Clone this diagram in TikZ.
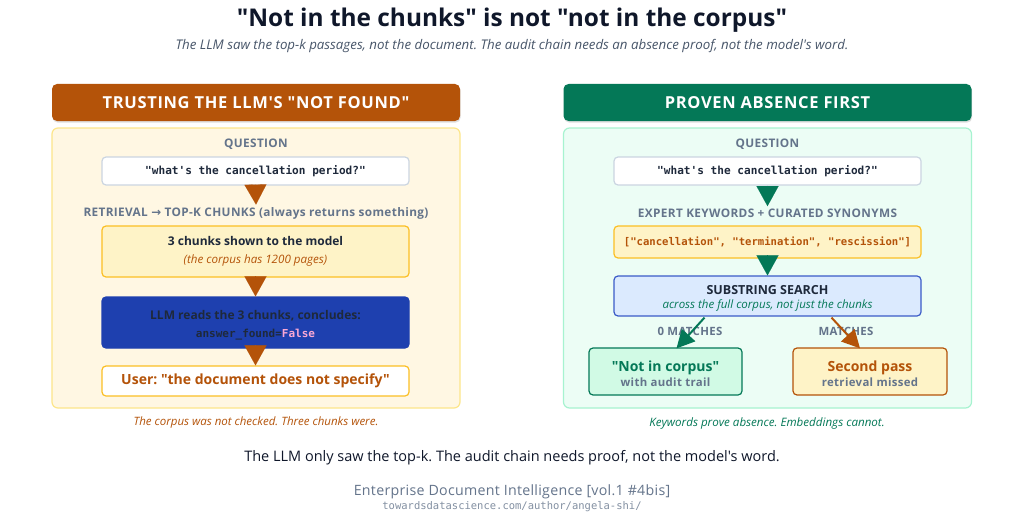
\documentclass[tikz,border=0pt]{standalone}
\usepackage{fontspec}
\setmainfont{Open Sans}[Ligatures=TeXOff]
\setmonofont{DejaVu Sans Mono}
\newfontfamily\arrfont{DejaVu Sans}
\usetikzlibrary{arrows.meta,shadows,calc}
\frenchspacing
\definecolor{ttl}{HTML}{0F172A}
\definecolor{sub}{HTML}{475569}
\definecolor{org}{HTML}{B45309}
\definecolor{grn}{HTML}{047857}
\definecolor{lpan}{HTML}{FFF7E3}
\definecolor{lpanb}{HTML}{FDE68A}
\definecolor{rpan}{HTML}{ECFDF5}
\definecolor{rpanb}{HTML}{A7F3D0}
\definecolor{gry}{HTML}{64748B}
\definecolor{qb}{HTML}{CBD5E1}
\definecolor{yfill}{HTML}{FEF3C7}
\definecolor{ybord}{HTML}{FBBF24}
\definecolor{blu}{HTML}{1E40AF}
\definecolor{dk}{HTML}{1E293B}
\definecolor{pnk}{HTML}{F9A8D4}
\definecolor{lblu}{HTML}{DBEAFE}
\definecolor{blub}{HTML}{3B5BC7}
\definecolor{lgrn}{HTML}{D1FAE5}
\tikzset{
  header/.style={rounded corners=5pt, minimum width=408pt, minimum height=37pt, inner sep=0pt,
     text=white, font=\fontsize{16.5}{19}\selectfont\bfseries\addfontfeature{LetterSpace=4},
     drop shadow={opacity=0.25, shadow xshift=0.6pt, shadow yshift=-1.6pt}},
  panel/.style={rounded corners=6pt, minimum width=408pt, minimum height=280pt, line width=1.2pt},
  box/.style={rounded corners=4pt, minimum width=307pt, inner sep=0pt, line width=1.2pt, align=center},
  lab/.style={text=gry, font=\fontsize{11.8}{13}\selectfont\bfseries\addfontfeature{LetterSpace=3}},
  tri/.style={draw=#1, line width=0.1pt, -{Triangle[width=22pt,length=20pt,fill=#1]}},
  diag/.style={draw=#1, line width=2pt, -{Triangle[width=18pt,length=18pt,fill=#1]}},
}
\begin{document}
\begin{tikzpicture}[x=1pt,y=-1pt]
\useasboundingbox[fill=white] (0,0) rectangle (1024,524);
% titles
\node[text=ttl, font=\fontsize{24.4}{28}\selectfont\bfseries] (title) at (512,20) {"Not in the chunks" is not "not in the corpus"};
\node[text=sub, font=\fontsize{13.3}{15}\selectfont\itshape] (subtitle) at (512,46) {The LLM saw the top-k passages, not the document. The audit chain needs an absence proof, not the model's word.};

% ---------- LEFT ----------
\node[header, fill=org] (lh) at (256,102.5) {TRUSTING THE LLM'S "NOT FOUND"};
\node[panel, fill=lpan, draw=lpanb] (lp) at (256,268) {};
\node[lab] (lq) at (256,144) {QUESTION};
\node[box, fill=white, draw=qb, minimum height=28pt, font=\fontsize{11.1}{13}\selectfont\ttfamily\bfseries, text=dk] (q1) at (255.5,171) {"what's the cancellation period?"};
\node[lab] (lab1) at (256,213) {RETRIEVAL {\arrfont\bfseries →} TOP-K CHUNKS (always returns something)};
\node[box, fill=yfill, draw=ybord, minimum height=51pt, font=\fontsize{12}{18}\selectfont] (c1) at (255.5,251.5)
  {{\bfseries\color{dk}3 chunks shown to the model}\\
   {\fontsize{11.6}{13}\selectfont\itshape\color{org}(the corpus has 1200 pages)}};
\node[box, fill=blu, draw=blu, minimum height=51pt, font=\fontsize{12}{18}\selectfont] (llm) at (255.5,322.5)
  {\rule{0pt}{14pt}{\bfseries\color{dk}LLM reads the 3 chunks, concludes:}\\
   {\fontsize{11}{13}\selectfont\ttfamily\bfseries\color{dk}answer\_found=\textcolor{pnk}{False}}};
\node[box, fill=white, draw=ybord, minimum height=30pt, font=\fontsize{14}{16}\selectfont\bfseries, text=org] (usr) at (255.5,381) {User: "the document does not specify"};
\node[text=org, font=\fontsize{11.5}{13}\selectfont\itshape] (cap1) at (256,423) {The corpus was not checked. Three chunks were.};
\draw[tri=org] (q1.south) -- ($(lab1.north)+(0,1)$);
\draw[tri=org] (c1.south) -- (llm.north);
\draw[tri=org] (llm.south) -- (usr.north);

% ---------- RIGHT ----------
\node[header, fill=grn] (rh) at (767.5,102.5) {PROVEN ABSENCE FIRST};
\node[panel, fill=rpan, draw=rpanb] (rp) at (767.5,268) {};
\node[lab] (rq) at (767.5,144) {QUESTION};
\node[box, fill=white, draw=qb, minimum height=28pt, font=\fontsize{11.1}{13}\selectfont\ttfamily\bfseries, text=dk] (q2) at (767.5,171) {"what's the cancellation period?"};
\node[lab] (lab2) at (767.5,213) {EXPERT KEYWORDS + CURATED SYNONYMS};
\node[box, fill=yfill, draw=ybord, minimum height=32pt, font=\fontsize{10.6}{13}\selectfont\ttfamily\bfseries, text=org] (kw) at (767.5,242) {["cancellation", "termination", "rescission"]};
\node[box, fill=lblu, draw=blub, minimum height=40pt, font=\fontsize{12.5}{14}\selectfont] (ss) at (767.5,296)
  {\rule{0pt}{14pt}{\bfseries\color{dk}SUBSTRING SEARCH}\\
   {\fontsize{11.5}{13}\selectfont\itshape\color{grn}across the full corpus, not just the chunks}};
\node[lab, font=\fontsize{11.4}{13}\selectfont\bfseries\addfontfeature{LetterSpace=3}] (m0) at (690,331) {0 MATCHES};
\node[lab, font=\fontsize{11.4}{13}\selectfont\bfseries\addfontfeature{LetterSpace=3}] (m1) at (846,331) {MATCHES};
\node[box, minimum width=153pt, minimum height=47pt, fill=lgrn, draw=grn, font=\fontsize{14}{15}\selectfont] (nic) at (665.5,371.5)
  {\rule{0pt}{15pt}{\bfseries\color{grn}"Not in corpus"}\\
   {\fontsize{11.4}{13}\selectfont\bfseries\addfontfeature{LetterSpace=3}\color{gry}with audit trail}};
\node[box, minimum width=154pt, minimum height=47pt, fill=yfill, draw=org, font=\fontsize{14}{15}\selectfont] (sp) at (870,371.5)
  {\rule{0pt}{15pt}{\bfseries\color{org}Second pass}\\
   {\fontsize{11.4}{13}\selectfont\bfseries\addfontfeature{LetterSpace=3}\color{gry}retrieval missed}};
\node[text=grn, font=\fontsize{11.6}{13}\selectfont\itshape] (cap2) at (767,423) {Keywords prove absence. Embeddings cannot.};
\draw[tri=grn] (q2.south) -- ($(lab2.north)+(0,1)$);
\draw[tri=grn] (kw.south) -- (ss.north);
\draw[diag=grn] ($(ss.south)+(-63,1)$) -- ($(nic.north)+(11,1)$);
\draw[diag=org] ($(ss.south)+(64,1)$) -- ($(sp.north)+(-10,1)$);

% ---------- BOTTOM ----------
\node[text=ttl, font=\fontsize{14.5}{17}\selectfont] (bot) at (512,458) {The LLM only saw the top-k. The audit chain needs proof, not the model's word.};
\node[text=gry, font=\fontsize{14.2}{16}\selectfont\addfontfeature{LetterSpace=2}] (ser) at (512,492) {Enterprise Document Intelligence [vol.1 \#4bis]};
\node[text=gry!80, font=\fontsize{10.5}{12}\selectfont\ttfamily] (url) at (512,507) {towardsdatascience.com/author/angela-shi/};
\end{tikzpicture}
\end{document}
